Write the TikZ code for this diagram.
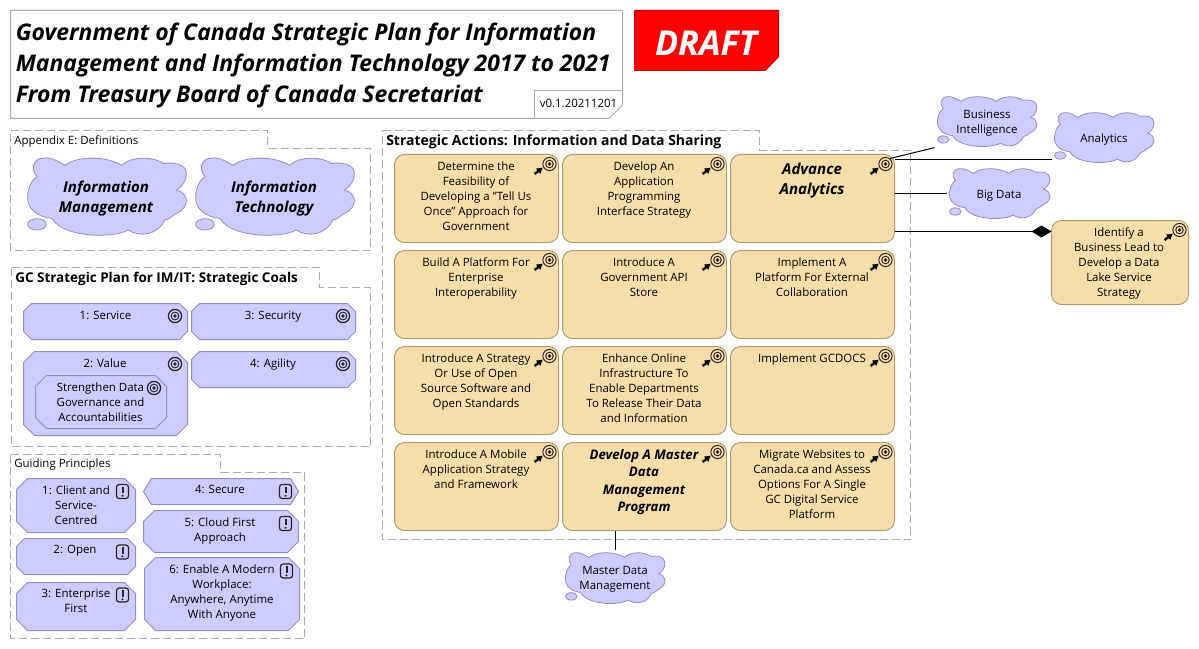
\documentclass[tikz,border=0pt]{standalone}
\usepackage{fontspec}
\setmainfont{Open Sans}
\usetikzlibrary{arrows.meta,calc}
\definecolor{goalfill}{HTML}{CCCCFF}
\definecolor{goalline}{HTML}{8F8FBD}
\definecolor{actfill}{HTML}{F5DEAA}
\definecolor{actline}{HTML}{B09B70}
\definecolor{framecol}{HTML}{ABABAB}
\newcommand\bodyfont{\fontsize{8.6}{11.25}\selectfont}
\newcommand\cloudbig{\fontsize{11.3}{15}\selectfont\bfseries\itshape}
\newcommand\actbig{\fontsize{11.3}{15}\selectfont\bfseries\itshape}
\newcommand\devbig{\fontsize{9.9}{13}\selectfont\bfseries\itshape}
\tikzset{
  actionbox/.style={draw=actline,fill=actfill,rounded corners=7.5pt,line width=.75pt,inner sep=0pt,outer sep=0pt},
  goalshape/.style={draw=goalline,fill=goalfill,line width=.75pt},
  boxtext/.style={font=\bodyfont,align=center,inner sep=0pt,anchor=north,text=black,yshift=-1.9pt},
  frameline/.style={draw=framecol,dash pattern=on 6pt off 3pt,line width=.75pt},
  cloudshape/.style={fill=goalfill,draw=goalline,line width=.6pt},
  anchorbox/.style={inner sep=0pt,outer sep=0pt},
  conn/.style={draw=black,line width=.75pt},
  icondark/.style={draw=black!85,line width=.6pt},
}
\newcommand\tgt[2]{%
  \draw[icondark,line width=.9pt] (#1,#2) circle[radius=6.6];
  \draw[icondark,line width=.7pt] (#1,#2) circle[radius=3.9];
  \fill[black!85] (#1,#2) circle[radius=1.9];}
\newcommand\tgtarrow[2]{%
  \draw[icondark,line width=.7pt] (#1,#2) circle[radius=6.6];
  \draw[icondark,line width=.7pt] (#1,#2) circle[radius=3.8];
  \fill[black!85] (#1,#2) circle[radius=1.9];
  \draw[black,line width=1.8pt,-{Latex[length=4.5pt,width=5.5pt]}] ($(#1,#2)+(-15,10)$) -- ($(#1,#2)+(-6.5,3.5)$);}
\newcommand\excl[2]{%
  \draw[black!85,line width=.9pt,rounded corners=2pt] ($(#1,#2)+(-6,-7)$) rectangle ($(#1,#2)+(6,7)$);
  \draw[black!85,line width=1.5pt] ($(#1,#2)+(0,-5)$) -- ($(#1,#2)+(0,1.5)$);
  \fill[black!85] ($(#1,#2)+(0,4.2)$) circle[radius=1.1];}
\newcommand\actbox[5]{%
  \pgfmathsetmacro\bw{(#4-#2)*.75}\pgfmathsetmacro\bh{(#5-#3)*.75}%
  \node[actionbox,minimum width=\bw pt,minimum height=\bh pt] (#1) at ({(#2+#4)/2},{(#3+#5)/2}) {};
  \tgtarrow{#4-9}{#3+9.5}}
\newcommand\glbox[5]{%
  \pgfmathsetmacro\bw{(#4-#2)*.75}\pgfmathsetmacro\bh{(#5-#3)*.75}%
  \pgfmathsetmacro\cy{(#5-#3)<30 ? (#5-#3)/2 : ((#5-#3)<40 ? 8 : 11)}%
  \pgfmathsetmacro\cx{(#5-#3)<30 ? 8 : \cy}%
  \path[goalshape] ({#2+\cx},#3) -- ({#4-\cx},#3) -- (#4,{#3+\cy}) -- (#4,{#5-\cy}) -- ({#4-\cx},#5) -- ({#2+\cx},#5) -- (#2,{#5-\cy}) -- (#2,{#3+\cy}) -- cycle;
  \node[anchorbox,minimum width=\bw pt,minimum height=\bh pt] (#1) at ({(#2+#4)/2},{(#3+#5)/2}) {};}
\newcommand\cloudat[5]{%
  \pgfmathsetmacro\bw{(#4-#2)*.75}\pgfmathsetmacro\bh{(#5-#3)*.75}%
  \pgfmathsetmacro\sx{(#4-#2)/485}\pgfmathsetmacro\sy{(#5-#3)/238}%
  \begin{scope}[shift={(#2,#3)},xscale=\sx,yscale=\sy]
    \path[cloudshape] (75,185) .. controls (30,180) and (0,155) .. (2,120)
      .. controls (3,90) and (15,70) .. (30,58)
      .. controls (12,40) and (15,5) .. (50,3)
      .. controls (75,0) and (95,15) .. (115,25)
      .. controls (150,-3) and (235,-5) .. (285,25)
      .. controls (310,0) and (375,-5) .. (412,20)
      .. controls (440,15) and (480,20) .. (480,50)
      .. controls (480,75) and (465,90) .. (450,100)
      .. controls (485,105) and (495,150) .. (450,170)
      .. controls (435,180) and (425,190) .. (415,190)
      .. controls (390,240) and (335,240) .. (305,220)
      .. controls (260,245) and (110,245) .. (75,185) -- cycle;
    \path[cloudshape] (30,203) ellipse[x radius=28,y radius=17];
  \end{scope}
  \node[anchorbox,minimum width=\bw pt,minimum height=\bh pt] (#1) at ({(#2+#4)/2},{(#3+#5)/2}) {};}
\begin{document}
\begin{tikzpicture}[x=.75pt,y=-.75pt]
\useasboundingbox (0,0) rectangle (1199,649);
% title
\draw[draw=framecol,line width=.75pt] (10.5,10.5) -- (622.5,10.5) -- (622.5,105) -- (609,118.5) -- (10.5,118.5) -- cycle;
\node[anchor=west,inner sep=0pt,font=\fontsize{17.2}{23.25}\selectfont\bfseries\itshape,align=left] (title) at (15.5,65) {Government of Canada Strategic Plan for Information\\Management and Information Technology 2017 to 2021\\From Treasury Board of Canada Secretariat};
\draw[draw=framecol,line width=.75pt] (534.5,118.5) -- (534.5,90.5) -- (622.5,90.5);
\node[inner sep=0pt,font=\bodyfont] (version) at (578.5,103) {v0.1.20211201};
% draft
\draw[draw=red!80!black,fill=red,line width=.75pt] (634.5,10.5) -- (778.5,10.5) -- (778.5,57) -- (765,70.5) -- (634.5,70.5) -- cycle;
\node[inner sep=0pt,text=white,font=\fontsize{25.7}{30}\selectfont\bfseries\itshape] (draft) at (706,43) {DRAFT};
% frames
\draw[frameline] (10.5,130.5) -- (267.5,130.5) -- (267.5,148.5) -- (370.5,148.5) -- (370.5,250.5) -- (10.5,250.5) -- cycle;
\node[anchor=west,inner sep=0pt,font=\bodyfont] (f1) at (14,141) {Appendix E: Definitions};
\draw[frameline] (11.5,267.5) -- (319.5,267.5) -- (319.5,287.5) -- (370.5,287.5) -- (370.5,446.5) -- (11.5,446.5) -- cycle;
\node[anchor=west,inner sep=0pt,font=\fontsize{10.1}{15}\selectfont\bfseries] (f2) at (15,279) {GC Strategic Plan for IM/IT: Strategic Coals};
\draw[frameline] (10.5,454.5) -- (220.5,454.5) -- (220.5,472.5) -- (304.5,472.5) -- (304.5,638.5) -- (10.5,638.5) -- cycle;
\node[anchor=west,inner sep=0pt,font=\bodyfont] (f3) at (14,465) {Guiding Principles};
\draw[frameline] (382.5,130.5) -- (759.5,130.5) -- (759.5,150.5) -- (910.5,150.5) -- (910.5,539.5) -- (382.5,539.5) -- cycle;
\node[anchor=west,inner sep=0pt,font=\fontsize{10.5}{15}\selectfont\bfseries] (f4) at (386,142) {Strategic Actions: Information and Data Sharing};
% definitions clouds
\cloudat{im}{27}{157}{188}{236}
\node[boxtext,font=\cloudbig] (imt) at (106,178) {Information\\Management};
\cloudat{it}{195}{157}{356}{236}
\node[boxtext,font=\cloudbig] (itt) at (274,178) {Information\\Technology};
% goals
\glbox{g1}{23.5}{303.5}{187.5}{339.5}\node[boxtext] (g1t) at (105.5,308.5) {1: Service};\tgt{175}{316}
\glbox{g3}{191.5}{303.5}{355.5}{339.5}\node[boxtext] (g3t) at (273,308.5) {3: Security};\tgt{343}{316}
\glbox{g2}{23.5}{351.5}{187.5}{435.5}\node[boxtext] (g2t) at (105,355.5) {2: Value};\tgt{175}{364}
\glbox{g4}{191.5}{351.5}{355.5}{387.5}\node[boxtext] (g4t) at (273,355.5) {4: Agility};\tgt{343}{364}
\glbox{g5}{35.5}{375.5}{166.5}{428.5}\node[boxtext] (g5t) at (100.5,379.5) {Strengthen Data\\Governance and\\Accountabilities};\tgt{154}{388}
% principles
\glbox{p1}{16.5}{478.5}{135.5}{532.5}\node[boxtext] (p1t) at (76,482.5) {1: Client and\\Service-\\Centred};\excl{122.5}{491.5}
\glbox{p2}{16.5}{538.5}{135.5}{574.5}\node[boxtext] (p2t) at (75,542.5) {2: Open};\excl{122.5}{552}
\glbox{p3}{16.5}{582.5}{135.5}{630.5}\node[boxtext] (p3t) at (76,586.5) {3: Enterprise\\First};\excl{122.5}{595}
\glbox{p4}{143.5}{478.5}{298.5}{504.5}\node[boxtext] (p4t) at (220,482.5) {4: Secure};\excl{285.5}{491.5}
\glbox{p5}{143.5}{510.5}{298.5}{552.5}\node[boxtext] (p5t) at (220,514.5) {5: Cloud First\\Approach};\excl{285.5}{523.5}
\glbox{p6}{144.5}{557.5}{299.5}{630.5}\node[boxtext] (p6t) at (222,561.5) {6: Enable A Modern\\Workplace:\\Anywhere, Anytime\\With Anyone};\excl{286.5}{571}
% actions
\actbox{a11}{394.5}{154.5}{558.5}{242.5}\node[boxtext] (a11t) at (476,159) {Determine the\\Feasibility of\\Developing a "Tell Us\\Once" Approach for\\Government};
\actbox{a12}{562.5}{154.5}{726.5}{242.5}\node[boxtext] (a12t) at (644,159) {Develop An\\Application\\Programming\\Interface Strategy};
\actbox{adv}{730.5}{154.5}{894.5}{242.5}\node[boxtext,font=\actbig] (advt) at (812,160) {Advance\\Analytics};
\actbox{a21}{394.5}{250.5}{558.5}{338.5}\node[boxtext] (a21t) at (476,255) {Build A Platform For\\Enterprise\\Interoperability};
\actbox{a22}{562.5}{250.5}{726.5}{338.5}\node[boxtext] (a22t) at (644,255) {Introduce A\\Government API\\Store};
\actbox{a23}{730.5}{250.5}{894.5}{338.5}\node[boxtext] (a23t) at (812,255) {Implement A\\Platform For External\\Collaboration};
\actbox{a31}{394.5}{346.5}{558.5}{434.5}\node[boxtext] (a31t) at (476,351) {Introduce A Strategy\\Or Use of Open\\Source Software and\\Open Standards};
\actbox{a32}{562.5}{346.5}{726.5}{434.5}\node[boxtext] (a32t) at (644,351) {Enhance Online\\Infrastructure To\\Enable Departments\\To Release Their Data\\and Information};
\actbox{a33}{730.5}{346.5}{894.5}{434.5}\node[boxtext] (a33t) at (812,351) {Implement GCDOCS};
\actbox{a41}{394.5}{442.5}{558.5}{530.5}\node[boxtext] (a41t) at (476,447) {Introduce A Mobile\\Application Strategy\\and Framework};
\actbox{dev}{562.5}{442.5}{726.5}{530.5}\node[boxtext,font=\devbig] (devt) at (644,446.5) {Develop A Master\\Data\\Management\\Program};
\actbox{a43}{730.5}{442.5}{894.5}{530.5}\node[boxtext] (a43t) at (812,447) {Migrate Websites to\\Canada.ca and Assess\\Options For A Single\\GC Digital Service\\Platform};
\actbox{lead}{1051.5}{220.5}{1188.5}{304.5}\node[boxtext] (leadt) at (1119,225) {Identify a\\Business Lead to\\Develop a Data\\Lake Service\\Strategy};
% side clouds
\cloudat{bi}{937}{96}{1038}{147}
\node[boxtext] (bit) at (987,107) {Business\\Intelligence};
\cloudat{ana}{1054}{112}{1155}{163}
\node[boxtext] (anat) at (1104,131) {Analytics};
\cloudat{big}{949}{168}{1051}{219}
\node[boxtext] (bigt) at (999,187) {Big Data};
\cloudat{mdm}{565}{552}{666}{604}
\node[boxtext] (mdmt) at (615,564) {Master Data\\Management};
% connectors
\coordinate (bistart) at (890,158.5);
\coordinate (anay) at (900,159.5);
\coordinate (bigy) at (900,193.5);
\coordinate (leady) at (900,231.5);
\draw[conn,shorten >=2pt] (bistart) -- (bi.south west);
\draw[conn,shorten >=1.5pt] (adv.east |- anay) -- (ana.west |- anay);
\draw[conn,shorten >=1.5pt] (adv.east |- bigy) -- (big.west |- bigy);
\draw[conn,-{Diamond[length=15pt,width=9pt]}] (adv.east |- leady) -- (lead.west |- leady);
\draw[conn,shorten >=1.5pt] (dev.south -| mdm.north) -- (mdm.north);
\end{tikzpicture}
\end{document}
